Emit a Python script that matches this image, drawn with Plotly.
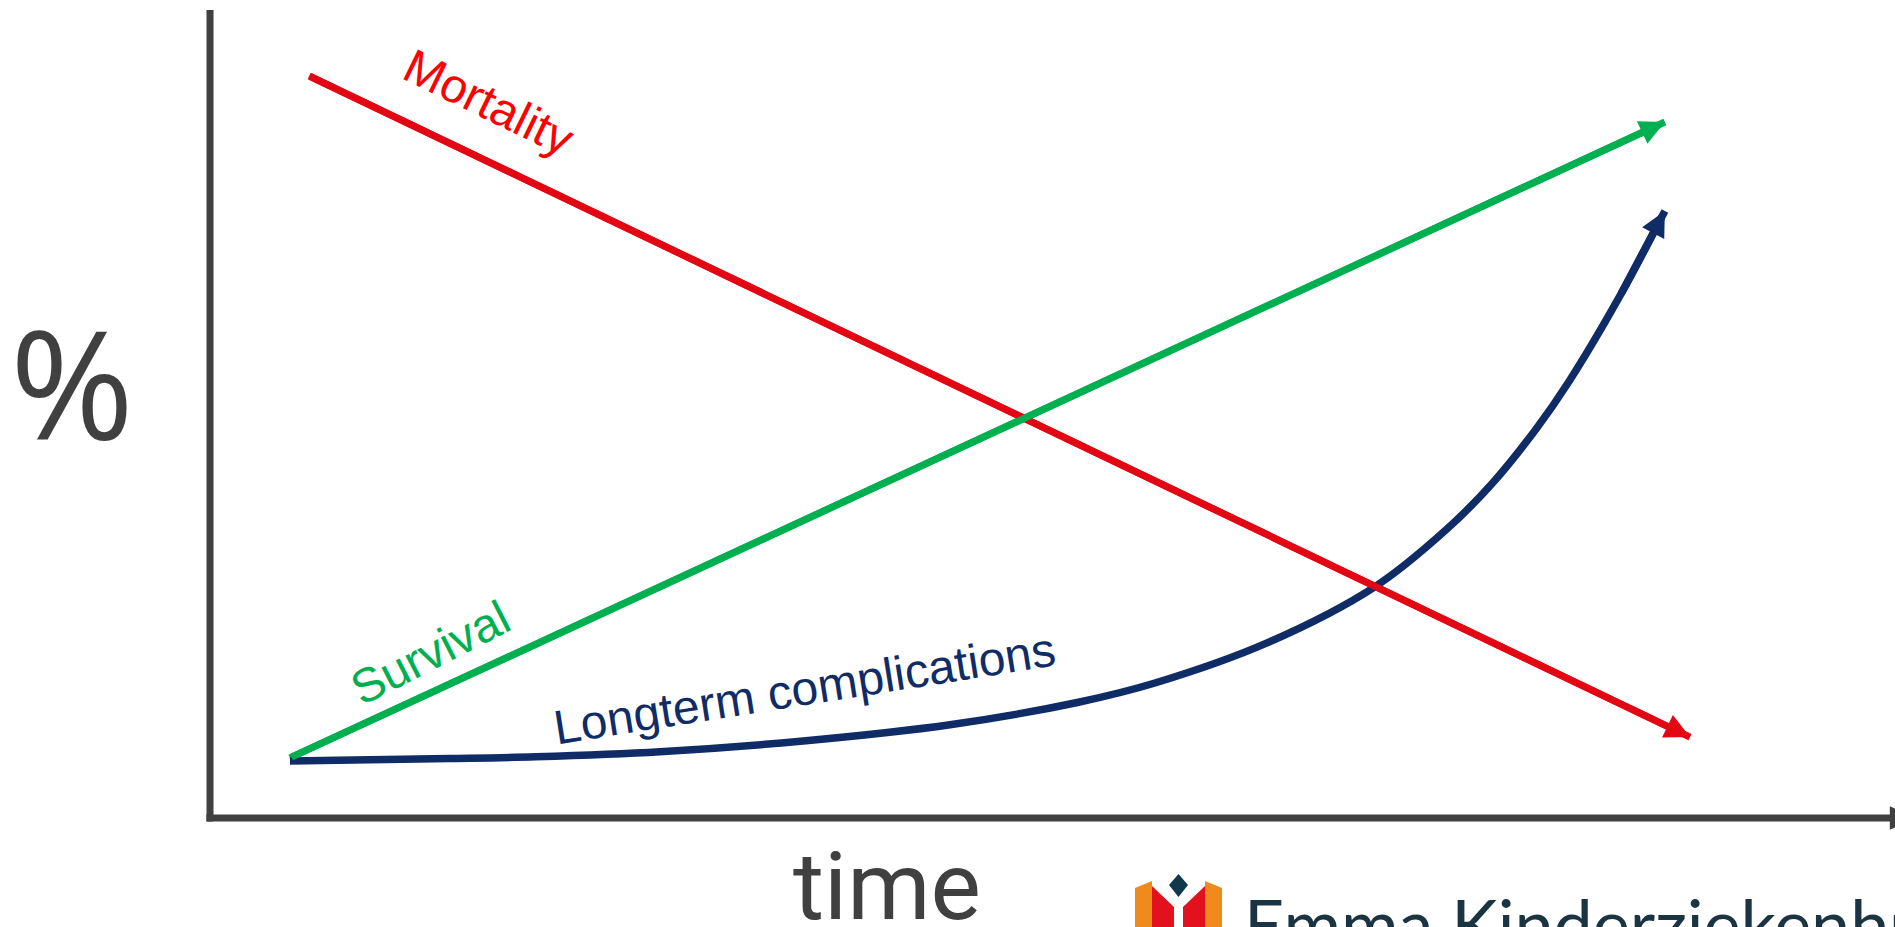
import plotly.graph_objects as go

W, H = 1895, 927

# ---- data (time in arbitrary units, outcome in %) ----
mort_t = [0.67, 10.0]
mort_p = [100.0, 10.9]

surv_t = [0.54, 9.83]
surv_p = [8.1, 93.8]

comp_t = [0.54, 1.62, 2.20, 3.04, 3.99, 5.00, 5.86, 6.39, 7.15, 7.87, 8.35, 8.66, 8.96, 9.18, 9.53, 9.83]
comp_p = [7.68, 8.01, 8.26, 8.94, 10.35, 12.57, 15.57, 18.23, 23.67, 31.16, 38.81, 45.01, 52.43, 58.76, 70.49, 81.81]

labels = ["Mortality", "Survival", "Longterm complications"]
label_t = [1.885, 1.493, 4.014]
label_p = [96.4, 22.24, 17.44]
label_angle = [26, -27, -9]

X_RANGE = [-1.419, 11.385]
Y_RANGE = [-14.69, 110.24]

RED = "#E30613"
RED_TXT = "#FF0000"
GREEN = "#00B050"
NAVY = "#0F2C66"
GREY = "#404040"

fig = go.Figure()
fig.add_trace(go.Scatter(x=mort_t, y=mort_p, mode="lines",
                         line=dict(color=RED, width=7), hoverinfo="skip"))
fig.add_trace(go.Scatter(x=surv_t, y=surv_p, mode="lines",
                         line=dict(color=GREEN, width=7), hoverinfo="skip"))
fig.add_trace(go.Scatter(x=comp_t, y=comp_p, mode="lines",
                         line=dict(color=NAVY, width=7.5, shape="spline", smoothing=1.0),
                         hoverinfo="skip"))

annotations = []
# arrow heads
for tt, pp, col, w in [(mort_t, mort_p, RED, 7), (surv_t, surv_p, GREEN, 7), (comp_t, comp_p, NAVY, 7.5)]:
    annotations.append(dict(x=tt[-1], y=pp[-1], ax=tt[-2], ay=pp[-2],
                            xref="x", yref="y", axref="x", ayref="y",
                            showarrow=True, arrowhead=2, arrowwidth=w,
                            arrowsize=5.0 / w, arrowcolor=col, text="", standoff=0))
# series labels
for lab, tt, pp, ang, col in zip(labels, label_t, label_p, label_angle, [RED_TXT, GREEN, NAVY]):
    annotations.append(dict(x=tt, y=pp, xref="x", yref="y", text=lab, showarrow=False,
                            textangle=ang, xanchor="center", yanchor="middle",
                            font=dict(family="Liberation Sans, Arial", size=48, color=col)))
# axis titles
annotations.append(dict(x=72 / W, y=1 - 381.5 / H, xref="paper", yref="paper", text="%",
                        showarrow=False, xanchor="center", yanchor="middle",
                        font=dict(family="Open Sans", size=150, color=GREY)))
annotations.append(dict(x=887 / W, y=1 - 886 / H, xref="paper", yref="paper", text="time",
                        showarrow=False, xanchor="center", yanchor="middle",
                        font=dict(family="Roboto", size=95, color=GREY)))
# logo text
annotations.append(dict(x=1242 / W, y=1 - 923 / H, xref="paper", yref="paper",
                        text="Emma Kinderziekenhuis", showarrow=False,
                        xanchor="left", yanchor="middle",
                        font=dict(family="Lato", size=70, color="#1B3442")))


def P(px, py):
    return f"{px / W:.5f},{1 - py / H:.5f}"


shapes = [
    # y axis
    dict(type="line", xref="x", yref="y", x0=0, x1=0, y0=-0.47, y1=108.9,
         line=dict(color=GREY, width=7)),
    # x axis
    dict(type="line", xref="x", yref="y", x0=-0.024, x1=11.40, y0=0, y1=0,
         line=dict(color=GREY, width=7)),
    dict(type="path", xref="x", yref="y", path="M11.35,1.6 L11.52,0 L11.35,-1.6 Z",
         fillcolor=GREY, line=dict(width=0)),
    # logo icon
    dict(type="path", xref="paper", yref="paper",
         path=f"M{P(1135,888)} L{P(1152,881)} L{P(1152,930)} L{P(1135,930)} Z",
         fillcolor="#F08A1C", line=dict(width=0)),
    dict(type="path", xref="paper", yref="paper",
         path=f"M{P(1205,881)} L{P(1222,888)} L{P(1222,930)} L{P(1205,930)} Z",
         fillcolor="#F08A1C", line=dict(width=0)),
    dict(type="path", xref="paper", yref="paper",
         path=f"M{P(1152,886)} L{P(1174,907)} L{P(1174,930)} L{P(1152,930)} Z",
         fillcolor="#E3101E", line=dict(width=0)),
    dict(type="path", xref="paper", yref="paper",
         path=f"M{P(1205,886)} L{P(1183,907)} L{P(1183,930)} L{P(1205,930)} Z",
         fillcolor="#E3101E", line=dict(width=0)),
    dict(type="path", xref="paper", yref="paper",
         path=f"M{P(1178.5,874)} L{P(1188,885)} L{P(1178.5,897)} L{P(1169,885)} Z",
         fillcolor="#12394A", line=dict(width=0)),
]

fig.update_layout(
    width=W, height=H, autosize=False,
    margin=dict(l=0, r=0, t=0, b=0, pad=0),
    paper_bgcolor="white", plot_bgcolor="white",
    showlegend=False,
    xaxis=dict(range=X_RANGE, visible=False, fixedrange=True),
    yaxis=dict(range=Y_RANGE, visible=False, fixedrange=True),
    annotations=annotations,
    shapes=shapes,
)

fig.write_html("out.html", config={"displayModeBar": False},
               post_script="document.body.style.margin='0';document.body.style.overflow='hidden';")
